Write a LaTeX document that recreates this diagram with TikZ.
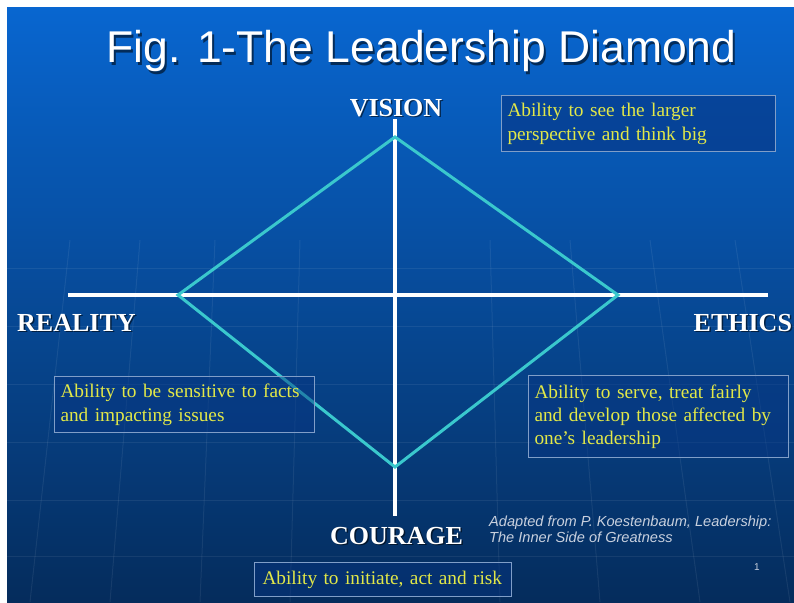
\documentclass[tikz,border=0pt]{standalone}
\usepackage{fontspec}
\setmainfont{Liberation Serif}
\newfontfamily\titlefont{Liberation Sans}
\newfontfamily\citefont{Liberation Sans}

\definecolor{slidetop}{RGB}{8,102,208}
\definecolor{slidemid}{RGB}{12,74,168}
\definecolor{slidebot}{RGB}{5,44,92}
\definecolor{diamondcyan}{RGB}{58,200,205}
\definecolor{noteyellow}{RGB}{226,232,72}
\definecolor{noteframe}{RGB}{128,158,200}
\definecolor{notefill}{RGB}{6,52,130}
\definecolor{citegray}{RGB}{200,208,222}

\tikzset{
  axisline/.style={white, line width=4.5pt},
  diamondline/.style={diamondcyan, line width=3pt, line join=miter},
  titletext/.style={font=\titlefont\fontsize{44.5}{50}\selectfont, inner sep=0pt},
  pointlabel/.style={font=\bfseries\fontsize{26}{30}\selectfont, inner sep=0pt},
  shadowtext/.style={text=black, opacity=0.55},
  note/.style={draw=noteframe, line width=1pt, fill=notefill, fill opacity=0.45,
    text opacity=1, text=noteyellow, anchor=north west, align=left,
    inner xsep=6pt, inner ysep=0pt,
    font=\fontsize{19.3}{24}\selectfont},
  citeline/.style={font=\citefont\itshape\fontsize{14.6}{17}\selectfont,
    text=citegray, inner sep=0pt, anchor=base west},
  gridline/.style={white, opacity=0.07, line width=1pt}
}

\begin{document}
\begin{tikzpicture}[x=1pt, y=-1pt]
  \useasboundingbox (0,0) rectangle (794,602);
  \fill[white] (0,0) rectangle (794,602);

  % slide background
  \shade[top color=slidetop, middle color=slidemid, bottom color=slidebot]
    (7,8) rectangle (794,602);

  % faint globe grid in the background
  \foreach \yy in {268,326,384,442,500,556}
    \draw[gridline] (7,\yy) -- (794,\yy);
  \foreach \xx/\tx in {30/70,110/140,200/215,290/300,500/490,600/570,700/650,790/735}
    \draw[gridline] (\xx,602) -- (\tx,240);

  % title with drop shadow
  \node[titletext, shadowtext, anchor=base] (titleshadow) at (423.5,65.5) {Fig. 1-The Leadership Diamond};
  \node[titletext, text=white, anchor=base] (title) at (421.5,63) {Fig. 1-The Leadership Diamond};

  % axes
  \coordinate (vtop) at (395,119);
  \coordinate (vbot) at (395,516);
  \coordinate (hleft) at (68,295);
  \coordinate (hright) at (768,295);
  \draw[axisline] (vtop) -- (vbot);
  \draw[axisline] (hleft) -- (hright);

  % the diamond
  \coordinate (dtop) at (395,137);
  \coordinate (dleft) at (178,295);
  \coordinate (dright) at (618,295);
  \coordinate (dbot) at (395,467);
  \draw[diamondline] (dtop) -- (dright) -- (dbot) -- (dleft) -- cycle;

  % corner labels
  \node[pointlabel, shadowtext, anchor=base] (visionshadow) at (397.5,117.5) {VISION};
  \node[pointlabel, text=white, anchor=base] (vision) at (396,116) {VISION};
  \node[pointlabel, shadowtext, anchor=base west] (realityshadow) at (18.5,332.5) {REALITY};
  \node[pointlabel, text=white, anchor=base west] (reality) at (17,331) {REALITY};
  \node[pointlabel, shadowtext, anchor=base west] (ethicsshadow) at (695,332.5) {ETHICS};
  \node[pointlabel, text=white, anchor=base west] (ethics) at (693.5,331) {ETHICS};
  \node[pointlabel, shadowtext, anchor=base] (courageshadow) at (398,545.5) {COURAGE};
  \node[pointlabel, text=white, anchor=base] (courage) at (396.5,544) {COURAGE};

  % description boxes
  \node[note, text width=262pt, minimum height=56pt, fill opacity=0.6] (visionnote) at (501,95)
    {Ability to see the larger\\perspective and think big};
  \node[note, text width=248pt, minimum height=56pt] (realitynote) at (54,376)
    {Ability to be sensitive to facts\\and impacting issues};
  \node[note, text width=248pt, minimum height=82pt,
        font=\fontsize{19.3}{23}\selectfont] (ethicsnote) at (528,375)
    {Ability to serve, treat fairly\\and develop those affected by\\one’s leadership};
  \node[note, text width=245pt, minimum height=34pt, inner xsep=6pt] (couragenote) at (254,562)
    {\hspace{2pt}Ability to initiate, act and risk};

  % source note and page number
  \node[citeline] (cite1) at (489,526) {Adapted from P. Koestenbaum, Leadership:};
  \node[citeline] (cite2) at (489,542) {The Inner Side of Greatness};
  \node[font=\citefont\fontsize{10}{12}\selectfont, text=citegray, inner sep=0pt,
        anchor=base] (pagenum) at (757,570) {1};
\end{tikzpicture}
\end{document}
